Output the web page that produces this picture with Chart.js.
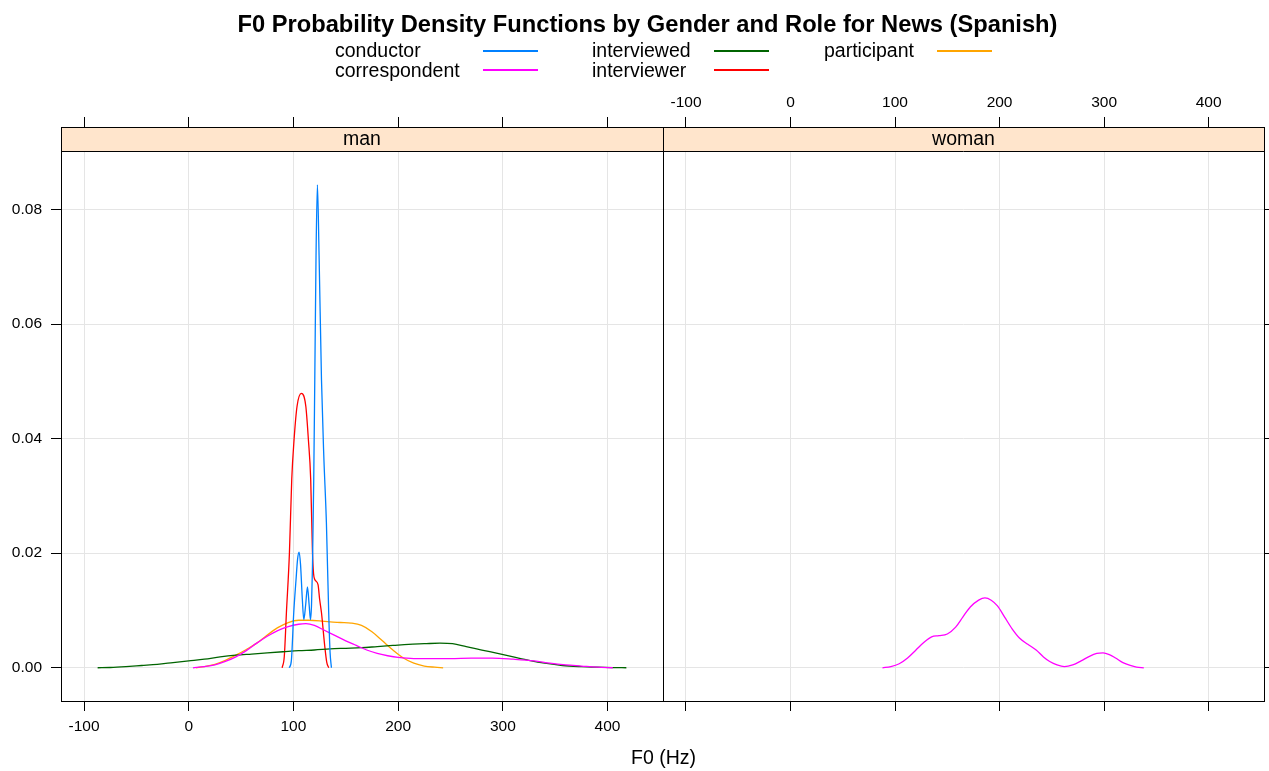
<!DOCTYPE html>
<html>
<head>
<meta charset="utf-8">
<script src="https://cdn.jsdelivr.net/npm/chart.js@4/dist/chart.umd.min.js"></script>
<style>
  body { margin: 0; background: #fff; font-family: 'Liberation Sans', Arial, sans-serif; }
  #wrap { position: relative; width: 1269px; height: 771px; overflow: hidden; }
  canvas { position: absolute; left: 0; top: 0; }
  #title { position: absolute; left: 0; top: 11px; width: 1295px; text-align: center;
           font-size: 23.7px; line-height: 26px; font-weight: bold; }
  .lg-text { position: absolute; font-size: 19.5px; line-height: 20px; white-space: nowrap; }
  .lg-line { position: absolute; width: 55px; height: 1.5px; }
  #xlab { position: absolute; left: 0; top: 747px; width: 1327px; text-align: center;
          font-size: 19.5px; line-height: 20px; }
</style>
</head>
<body>
<div id="wrap">
  <canvas id="manChart" width="1269" height="771"></canvas>
  <canvas id="womanChart" width="1269" height="771"></canvas>
  <div id="title">F0 Probability Density Functions by Gender and Role for News (Spanish)</div>
  <div id="legend"></div>
  <div id="xlab">F0 (Hz)</div>
</div>
<script>
// categories
const roles = ['conductor', 'correspondent', 'interviewed', 'interviewer', 'participant'];
const panels = ['man', 'woman'];

// tick labels
const xTicks = [-100, 0, 100, 200, 300, 400];
const xTickLabels = ['-100', '0', '100', '200', '300', '400'];
const yTicks = [0, 0.02, 0.04, 0.06, 0.08];
const yTickLabels = ['0.00', '0.02', '0.04', '0.06', '0.08'];

// density curves, [F0 Hz, density]
const manConductor = [[96,0],[98,0.0012],[100.3,0.0096],[102.5,0.0154],[104,0.019],[105.4,0.0202],[106.8,0.018],
  [108.5,0.012],[109.9,0.0084],[111.7,0.011],[113.4,0.0141],[115,0.011],[116.3,0.0084],[117.3,0.011],[118.2,0.0177],
  [119.4,0.0329],[120.4,0.0503],[121.6,0.072],[122.9,0.0843],[124.5,0.072],[126.8,0.0503],[129,0.037],[131.5,0.0253],
  [133.7,0.0096],[135,0.0027],[136.3,0]];
const manCorrespondent = [[4,0],[15,0.0002],[25,0.0005],[35,0.0011],[45,0.0019],[55,0.003],[65,0.0043],[75,0.0055],
  [85,0.0065],[95,0.0072],[105,0.0076],[112,0.0077],[120,0.0074],[130,0.0065],[140,0.0056],[150,0.0047],[160,0.0039],
  [170,0.0031],[180,0.0025],[190,0.0021],[200,0.0018],[215,0.0016],[230,0.0016],[250,0.0016],[270,0.0017],[290,0.0017],
  [310,0.0015],[330,0.0012],[345,0.0008],[360,0.0005],[375,0.0003],[390,0.0001],[405,0]];
const manInterviewed = [[-87,0],[-75,0.00005],[-60,0.0002],[-45,0.0004],[-30,0.0006],[-15,0.0009],[0,0.0012],[15,0.0015],
  [30,0.0019],[45,0.0022],[60,0.0024],[75,0.0026],[90,0.0028],[105,0.003],[120,0.0031],[135,0.0033],[150,0.0034],
  [165,0.0035],[180,0.0037],[195,0.0039],[210,0.0041],[225,0.0042],[240,0.0043],[252,0.0042],[265,0.0037],[280,0.0031],
  [295,0.0025],[310,0.0019],[325,0.0013],[340,0.0008],[357,0.0004],[375,0.0002],[390,0.0001],[405,0.00003],[418,0]];
const manInterviewer = [[89.2,0],[91.3,0.002],[93.3,0.0096],[96.2,0.0201],[98.4,0.0329],[100.6,0.0398],[103.5,0.0457],
  [107.6,0.0479],[111.8,0.0457],[114.3,0.0398],[116.5,0.0329],[118.2,0.0201],[119.2,0.0165],[120.4,0.0154],
  [123.5,0.0145],[125,0.012],[126.8,0.0096],[129.9,0.0038],[131.8,0.001],[133.7,0]];
const manParticipant = [[7,0],[15,0.0002],[25,0.0006],[35,0.0013],[45,0.0022],[55,0.0032],[65,0.0043],[75,0.0057],
  [85,0.007],[95,0.0079],[105,0.0083],[115,0.0083],[125,0.0082],[135,0.008],[145,0.0079],[155,0.0078],[165,0.0074],
  [175,0.0063],[185,0.0047],[195,0.0031],[205,0.0017],[215,0.0008],[225,0.0003],[235,0.0001],[243,0]];
const womanCorrespondent = [[88,0],[96,0.0002],[104,0.0007],[112,0.0017],[120,0.0031],[128,0.0045],[135,0.0054],
  [142,0.0056],[150,0.0059],[158,0.0071],[165,0.0089],[172,0.0106],[180,0.0118],[186,0.0122],[192,0.0118],[198,0.0108],
  [205,0.0088],[212,0.0068],[219,0.0052],[227,0.0041],[235,0.0031],[242,0.0019],[248,0.0011],[255,0.0005],[262,0.0002],
  [270,0.0005],[278,0.0012],[286,0.002],[293,0.0025],[299,0.0026],[305,0.0023],[311,0.0017],[318,0.0009],[325,0.0004],
  [331,0.0001],[338,0]];

// style
const roleColors = ['#0080ff', '#ff00ff', '#006400', '#ff0000', '#ffa500'];
const gridColor = '#e5e5e5';
const X_MIN = -122, X_MAX = 453;
const Y_MIN = -0.0058, Y_MAX = 0.0944;
const STRIP_H = 24;

Chart.defaults.font.family = "'Liberation Sans', Arial, sans-serif";
Chart.defaults.color = '#000';

// strip + panel box
const panelFrame = {
    id: 'panelFrame',
    afterDraw(chart, args, opts) {
        const ctx = chart.ctx;
        const a = chart.chartArea;
        ctx.save();
        ctx.fillStyle = '#ffe5cc';
        ctx.fillRect(a.left, a.top, a.right - a.left, STRIP_H);
        ctx.strokeStyle = '#000';
        ctx.lineWidth = 1;
        ctx.beginPath();
        ctx.moveTo(a.left, a.top + STRIP_H + 0.5);
        ctx.lineTo(a.right, a.top + STRIP_H + 0.5);
        ctx.stroke();
        ctx.strokeRect(a.left + 0.5, a.top + 0.5, a.right - a.left, a.bottom - a.top);
        ctx.fillStyle = '#000';
        ctx.font = "19.5px 'Liberation Sans', Arial, sans-serif";
        ctx.textAlign = 'center';
        ctx.textBaseline = 'middle';
        ctx.fillText(opts.label, (a.left + a.right) / 2, a.top + STRIP_H / 2 + 1);
        ctx.restore();
    }
};

function lineSet(role, points) {
    const i = roles.indexOf(role);
    return {
        label: role,
        data: points.map(p => ({ x: p[0], y: p[1] })),
        borderColor: roleColors[i],
        backgroundColor: 'transparent',
        borderWidth: 1.3,
        pointRadius: 0,
        fill: false,
        cubicInterpolationMode: 'monotone'
    };
}

function makePanel(canvasId, panelName, datasets, isLeft) {
    const ctx = document.getElementById(canvasId).getContext('2d');
    const xTickSetup = s => { s.ticks = xTicks.map(v => ({ value: v })); };
    const yTickSetup = s => { s.ticks = yTicks.map(v => ({ value: v })); };
    const tickFont = { size: 15.5 };
    return new Chart(ctx, {
        type: 'line',
        data: { datasets: datasets },
        options: {
            responsive: false,
            animation: false,
            layout: {
                padding: isLeft ? { left: 0, right: 606, top: 0, bottom: 0 } : { left: 663, right: 0, top: 0, bottom: 0 }
            },
            plugins: {
                legend: { display: false },
                tooltip: { enabled: false },
                panelFrame: { label: panelName }
            },
            scales: {
                x: {
                    type: 'linear',
                    position: 'bottom',
                    min: X_MIN,
                    max: X_MAX,
                    afterBuildTicks: xTickSetup,
                    afterFit: s => { s.height = 70; },
                    border: { display: false },
                    grid: { color: gridColor, tickColor: '#000', tickLength: 10 },
                    ticks: {
                        display: isLeft,
                        font: tickFont,
                        padding: 6,
                        maxRotation: 0,
                        callback: (v, i) => xTickLabels[i]
                    }
                },
                xTop: {
                    type: 'linear',
                    position: 'top',
                    min: X_MIN,
                    max: X_MAX,
                    afterBuildTicks: xTickSetup,
                    afterFit: s => { s.height = 127; },
                    border: { display: false },
                    grid: { drawOnChartArea: false, color: '#000', tickColor: '#000', tickLength: 10 },
                    ticks: {
                        display: !isLeft,
                        font: tickFont,
                        padding: 5,
                        maxRotation: 0,
                        callback: (v, i) => xTickLabels[i]
                    }
                },
                y: {
                    type: 'linear',
                    position: isLeft ? 'left' : 'right',
                    min: Y_MIN,
                    max: Y_MAX,
                    afterBuildTicks: yTickSetup,
                    afterFit: s => { s.width = isLeft ? 61 : 5; },
                    border: { display: false },
                    grid: { color: gridColor, tickColor: '#000', tickLength: 10 },
                    ticks: {
                        display: isLeft,
                        font: tickFont,
                        padding: 9,
                        callback: (v, i) => yTickLabels[i]
                    }
                }
            }
        },
        plugins: [panelFrame]
    });
}

// legend (3 columns, filled column by column)
function buildLegend() {
    const box = document.getElementById('legend');
    const colText = [335, 592, 824];
    const colLine = [483, 714, 937];
    const rowTop = [40, 59.5];
    const lineTop = [50, 69];
    roles.forEach((r, i) => {
        const c = Math.floor(i / 2), row = i % 2;
        const t = document.createElement('div');
        t.className = 'lg-text';
        t.style.left = colText[c] + 'px';
        t.style.top = rowTop[row] + 'px';
        t.textContent = r;
        box.appendChild(t);
        const l = document.createElement('div');
        l.className = 'lg-line';
        l.style.left = colLine[c] + 'px';
        l.style.top = lineTop[row] + 'px';
        l.style.background = roleColors[i];
        box.appendChild(l);
    });
}

document.addEventListener('DOMContentLoaded', function() {
    makePanel('manChart', panels[0], [
        lineSet('conductor', manConductor),
        lineSet('correspondent', manCorrespondent),
        lineSet('interviewed', manInterviewed),
        lineSet('interviewer', manInterviewer),
        lineSet('participant', manParticipant)
    ], true);
    makePanel('womanChart', panels[1], [
        lineSet('correspondent', womanCorrespondent)
    ], false);
    buildLegend();
});
</script>
</body>
</html>
